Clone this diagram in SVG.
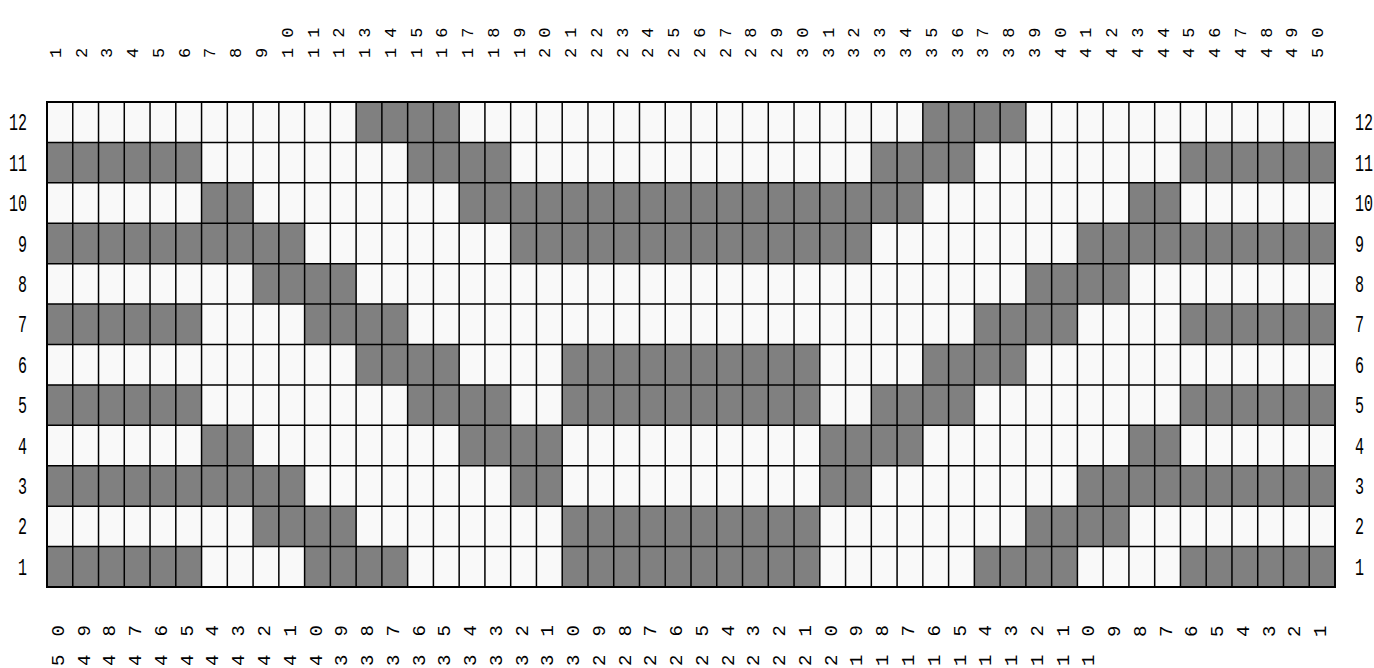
<svg xmlns="http://www.w3.org/2000/svg" width="1374" height="668" viewBox="0 0 1374 668">
<style>
.bg{fill:#ffffff}
.cell{fill:#f9f9f9}
.dk{fill:#808080}
.grid{fill:none;stroke:#000;stroke-width:1.5}
.frame{fill:none;stroke:#000;stroke-width:2}
.top{font-family:"Liberation Mono","DejaVu Sans Mono",monospace;font-size:17px;letter-spacing:10px;fill:#000}
.bot{font-family:"Liberation Mono","DejaVu Sans Mono",monospace;font-size:19px;letter-spacing:18px;fill:#000}
.rl{font-family:"Liberation Mono","DejaVu Sans Mono",monospace;font-size:15px;fill:#000}
.rl.l{text-anchor:end}
</style>
<rect class="bg" x="0" y="0" width="1374" height="668"/>
<g id="grid">
<rect class="cell" x="47" y="102" width="1288" height="485"/>
<g id="dark">
<rect class="dk" x="356.12" y="102" width="103.04" height="40.42"/>
<rect class="dk" x="922.84" y="102" width="103.04" height="40.42"/>
<rect class="dk" x="47" y="142.42" width="154.56" height="40.42"/>
<rect class="dk" x="407.64" y="142.42" width="103.04" height="40.42"/>
<rect class="dk" x="871.32" y="142.42" width="103.04" height="40.42"/>
<rect class="dk" x="1180.44" y="142.42" width="154.56" height="40.42"/>
<rect class="dk" x="201.56" y="182.83" width="51.52" height="40.42"/>
<rect class="dk" x="459.16" y="182.83" width="463.68" height="40.42"/>
<rect class="dk" x="1128.92" y="182.83" width="51.52" height="40.42"/>
<rect class="dk" x="47" y="223.25" width="257.6" height="40.42"/>
<rect class="dk" x="510.68" y="223.25" width="360.64" height="40.42"/>
<rect class="dk" x="1077.4" y="223.25" width="257.6" height="40.42"/>
<rect class="dk" x="253.08" y="263.67" width="103.04" height="40.42"/>
<rect class="dk" x="1025.88" y="263.67" width="103.04" height="40.42"/>
<rect class="dk" x="47" y="304.08" width="154.56" height="40.42"/>
<rect class="dk" x="304.6" y="304.08" width="103.04" height="40.42"/>
<rect class="dk" x="974.36" y="304.08" width="103.04" height="40.42"/>
<rect class="dk" x="1180.44" y="304.08" width="154.56" height="40.42"/>
<rect class="dk" x="356.12" y="344.5" width="103.04" height="40.42"/>
<rect class="dk" x="562.2" y="344.5" width="257.6" height="40.42"/>
<rect class="dk" x="922.84" y="344.5" width="103.04" height="40.42"/>
<rect class="dk" x="47" y="384.92" width="154.56" height="40.42"/>
<rect class="dk" x="407.64" y="384.92" width="103.04" height="40.42"/>
<rect class="dk" x="562.2" y="384.92" width="257.6" height="40.42"/>
<rect class="dk" x="871.32" y="384.92" width="103.04" height="40.42"/>
<rect class="dk" x="1180.44" y="384.92" width="154.56" height="40.42"/>
<rect class="dk" x="201.56" y="425.33" width="51.52" height="40.42"/>
<rect class="dk" x="459.16" y="425.33" width="103.04" height="40.42"/>
<rect class="dk" x="819.8" y="425.33" width="103.04" height="40.42"/>
<rect class="dk" x="1128.92" y="425.33" width="51.52" height="40.42"/>
<rect class="dk" x="47" y="465.75" width="257.6" height="40.42"/>
<rect class="dk" x="510.68" y="465.75" width="51.52" height="40.42"/>
<rect class="dk" x="819.8" y="465.75" width="51.52" height="40.42"/>
<rect class="dk" x="1077.4" y="465.75" width="257.6" height="40.42"/>
<rect class="dk" x="253.08" y="506.17" width="103.04" height="40.42"/>
<rect class="dk" x="562.2" y="506.17" width="257.6" height="40.42"/>
<rect class="dk" x="1025.88" y="506.17" width="103.04" height="40.42"/>
<rect class="dk" x="47" y="546.58" width="154.56" height="40.42"/>
<rect class="dk" x="304.6" y="546.58" width="103.04" height="40.42"/>
<rect class="dk" x="562.2" y="546.58" width="257.6" height="40.42"/>
<rect class="dk" x="974.36" y="546.58" width="103.04" height="40.42"/>
<rect class="dk" x="1180.44" y="546.58" width="154.56" height="40.42"/>
</g>
<path class="grid" d="M72.76 102V587M98.52 102V587M124.28 102V587M150.04 102V587M175.8 102V587M201.56 102V587M227.32 102V587M253.08 102V587M278.84 102V587M304.6 102V587M330.36 102V587M356.12 102V587M381.88 102V587M407.64 102V587M433.4 102V587M459.16 102V587M484.92 102V587M510.68 102V587M536.44 102V587M562.2 102V587M587.96 102V587M613.72 102V587M639.48 102V587M665.24 102V587M691 102V587M716.76 102V587M742.52 102V587M768.28 102V587M794.04 102V587M819.8 102V587M845.56 102V587M871.32 102V587M897.08 102V587M922.84 102V587M948.6 102V587M974.36 102V587M1000.12 102V587M1025.88 102V587M1051.64 102V587M1077.4 102V587M1103.16 102V587M1128.92 102V587M1154.68 102V587M1180.44 102V587M1206.2 102V587M1231.96 102V587M1257.72 102V587M1283.48 102V587M1309.24 102V587M47 142.42H1335M47 182.83H1335M47 223.25H1335M47 263.67H1335M47 304.08H1335M47 344.5H1335M47 384.92H1335M47 425.33H1335M47 465.75H1335M47 506.17H1335M47 546.58H1335"/>
<rect class="frame" x="47" y="102" width="1288" height="485"/>
</g>
<g id="top-labels">
<text class="top" transform="translate(60.9,58) rotate(-90)">1</text>
<text class="top" transform="translate(86.6,58) rotate(-90)">2</text>
<text class="top" transform="translate(112.4,58) rotate(-90)">3</text>
<text class="top" transform="translate(138.2,58) rotate(-90)">4</text>
<text class="top" transform="translate(163.9,58) rotate(-90)">5</text>
<text class="top" transform="translate(189.7,58) rotate(-90)">6</text>
<text class="top" transform="translate(215.4,58) rotate(-90)">7</text>
<text class="top" transform="translate(241.2,58) rotate(-90)">8</text>
<text class="top" transform="translate(267,58) rotate(-90)">9</text>
<text class="top" transform="translate(292.7,58) rotate(-90)">10</text>
<text class="top" transform="translate(318.5,58) rotate(-90)">11</text>
<text class="top" transform="translate(344.2,58) rotate(-90)">12</text>
<text class="top" transform="translate(370,58) rotate(-90)">13</text>
<text class="top" transform="translate(395.8,58) rotate(-90)">14</text>
<text class="top" transform="translate(421.5,58) rotate(-90)">15</text>
<text class="top" transform="translate(447.3,58) rotate(-90)">16</text>
<text class="top" transform="translate(473,58) rotate(-90)">17</text>
<text class="top" transform="translate(498.8,58) rotate(-90)">18</text>
<text class="top" transform="translate(524.6,58) rotate(-90)">19</text>
<text class="top" transform="translate(550.3,58) rotate(-90)">20</text>
<text class="top" transform="translate(576.1,58) rotate(-90)">21</text>
<text class="top" transform="translate(601.8,58) rotate(-90)">22</text>
<text class="top" transform="translate(627.6,58) rotate(-90)">23</text>
<text class="top" transform="translate(653.4,58) rotate(-90)">24</text>
<text class="top" transform="translate(679.1,58) rotate(-90)">25</text>
<text class="top" transform="translate(704.9,58) rotate(-90)">26</text>
<text class="top" transform="translate(730.6,58) rotate(-90)">27</text>
<text class="top" transform="translate(756.4,58) rotate(-90)">28</text>
<text class="top" transform="translate(782.2,58) rotate(-90)">29</text>
<text class="top" transform="translate(807.9,58) rotate(-90)">30</text>
<text class="top" transform="translate(833.7,58) rotate(-90)">31</text>
<text class="top" transform="translate(859.4,58) rotate(-90)">32</text>
<text class="top" transform="translate(885.2,58) rotate(-90)">33</text>
<text class="top" transform="translate(911,58) rotate(-90)">34</text>
<text class="top" transform="translate(936.7,58) rotate(-90)">35</text>
<text class="top" transform="translate(962.5,58) rotate(-90)">36</text>
<text class="top" transform="translate(988.2,58) rotate(-90)">37</text>
<text class="top" transform="translate(1014,58) rotate(-90)">38</text>
<text class="top" transform="translate(1039.8,58) rotate(-90)">39</text>
<text class="top" transform="translate(1065.5,58) rotate(-90)">40</text>
<text class="top" transform="translate(1091.3,58) rotate(-90)">41</text>
<text class="top" transform="translate(1117,58) rotate(-90)">42</text>
<text class="top" transform="translate(1142.8,58) rotate(-90)">43</text>
<text class="top" transform="translate(1168.6,58) rotate(-90)">44</text>
<text class="top" transform="translate(1194.3,58) rotate(-90)">45</text>
<text class="top" transform="translate(1220.1,58) rotate(-90)">46</text>
<text class="top" transform="translate(1245.8,58) rotate(-90)">47</text>
<text class="top" transform="translate(1271.6,58) rotate(-90)">48</text>
<text class="top" transform="translate(1297.4,58) rotate(-90)">49</text>
<text class="top" transform="translate(1323.1,58) rotate(-90)">50</text>
</g>
<g id="bottom-labels">
<text class="bot" transform="translate(63.9,666) rotate(-90)">50</text>
<text class="bot" transform="translate(89.6,666) rotate(-90)">49</text>
<text class="bot" transform="translate(115.4,666) rotate(-90)">48</text>
<text class="bot" transform="translate(141.2,666) rotate(-90)">47</text>
<text class="bot" transform="translate(166.9,666) rotate(-90)">46</text>
<text class="bot" transform="translate(192.7,666) rotate(-90)">45</text>
<text class="bot" transform="translate(218.4,666) rotate(-90)">44</text>
<text class="bot" transform="translate(244.2,666) rotate(-90)">43</text>
<text class="bot" transform="translate(270,666) rotate(-90)">42</text>
<text class="bot" transform="translate(295.7,666) rotate(-90)">41</text>
<text class="bot" transform="translate(321.5,666) rotate(-90)">40</text>
<text class="bot" transform="translate(347.2,666) rotate(-90)">39</text>
<text class="bot" transform="translate(373,666) rotate(-90)">38</text>
<text class="bot" transform="translate(398.8,666) rotate(-90)">37</text>
<text class="bot" transform="translate(424.5,666) rotate(-90)">36</text>
<text class="bot" transform="translate(450.3,666) rotate(-90)">35</text>
<text class="bot" transform="translate(476,666) rotate(-90)">34</text>
<text class="bot" transform="translate(501.8,666) rotate(-90)">33</text>
<text class="bot" transform="translate(527.6,666) rotate(-90)">32</text>
<text class="bot" transform="translate(553.3,666) rotate(-90)">31</text>
<text class="bot" transform="translate(579.1,666) rotate(-90)">30</text>
<text class="bot" transform="translate(604.8,666) rotate(-90)">29</text>
<text class="bot" transform="translate(630.6,666) rotate(-90)">28</text>
<text class="bot" transform="translate(656.4,666) rotate(-90)">27</text>
<text class="bot" transform="translate(682.1,666) rotate(-90)">26</text>
<text class="bot" transform="translate(707.9,666) rotate(-90)">25</text>
<text class="bot" transform="translate(733.6,666) rotate(-90)">24</text>
<text class="bot" transform="translate(759.4,666) rotate(-90)">23</text>
<text class="bot" transform="translate(785.2,666) rotate(-90)">22</text>
<text class="bot" transform="translate(810.9,666) rotate(-90)">21</text>
<text class="bot" transform="translate(836.7,666) rotate(-90)">20</text>
<text class="bot" transform="translate(862.4,666) rotate(-90)">19</text>
<text class="bot" transform="translate(888.2,666) rotate(-90)">18</text>
<text class="bot" transform="translate(914,666) rotate(-90)">17</text>
<text class="bot" transform="translate(939.7,666) rotate(-90)">16</text>
<text class="bot" transform="translate(965.5,666) rotate(-90)">15</text>
<text class="bot" transform="translate(991.2,666) rotate(-90)">14</text>
<text class="bot" transform="translate(1017,666) rotate(-90)">13</text>
<text class="bot" transform="translate(1042.8,666) rotate(-90)">12</text>
<text class="bot" transform="translate(1068.5,666) rotate(-90)">11</text>
<text class="bot" transform="translate(1094.3,666) rotate(-90)">10</text>
<text class="bot" transform="translate(1120,637) rotate(-90)">9</text>
<text class="bot" transform="translate(1145.8,637) rotate(-90)">8</text>
<text class="bot" transform="translate(1171.6,637) rotate(-90)">7</text>
<text class="bot" transform="translate(1197.3,637) rotate(-90)">6</text>
<text class="bot" transform="translate(1223.1,637) rotate(-90)">5</text>
<text class="bot" transform="translate(1248.8,637) rotate(-90)">4</text>
<text class="bot" transform="translate(1274.6,637) rotate(-90)">3</text>
<text class="bot" transform="translate(1300.4,637) rotate(-90)">2</text>
<text class="bot" transform="translate(1326.1,637) rotate(-90)">1</text>
</g>
<g id="row-labels-left">
<text class="rl l" transform="translate(27,130.2) scale(1,1.6)">12</text>
<text class="rl l" transform="translate(27,170.6) scale(1,1.6)">11</text>
<text class="rl l" transform="translate(27,211) scale(1,1.6)">10</text>
<text class="rl l" transform="translate(27,251.5) scale(1,1.6)">9</text>
<text class="rl l" transform="translate(27,291.9) scale(1,1.6)">8</text>
<text class="rl l" transform="translate(27,332.3) scale(1,1.6)">7</text>
<text class="rl l" transform="translate(27,372.7) scale(1,1.6)">6</text>
<text class="rl l" transform="translate(27,413.1) scale(1,1.6)">5</text>
<text class="rl l" transform="translate(27,453.5) scale(1,1.6)">4</text>
<text class="rl l" transform="translate(27,494) scale(1,1.6)">3</text>
<text class="rl l" transform="translate(27,534.4) scale(1,1.6)">2</text>
<text class="rl l" transform="translate(27,574.8) scale(1,1.6)">1</text>
</g>
<g id="row-labels-right">
<text class="rl" transform="translate(1355,130.2) scale(1,1.6)">12</text>
<text class="rl" transform="translate(1355,170.6) scale(1,1.6)">11</text>
<text class="rl" transform="translate(1355,211) scale(1,1.6)">10</text>
<text class="rl" transform="translate(1355,251.5) scale(1,1.6)">9</text>
<text class="rl" transform="translate(1355,291.9) scale(1,1.6)">8</text>
<text class="rl" transform="translate(1355,332.3) scale(1,1.6)">7</text>
<text class="rl" transform="translate(1355,372.7) scale(1,1.6)">6</text>
<text class="rl" transform="translate(1355,413.1) scale(1,1.6)">5</text>
<text class="rl" transform="translate(1355,453.5) scale(1,1.6)">4</text>
<text class="rl" transform="translate(1355,494) scale(1,1.6)">3</text>
<text class="rl" transform="translate(1355,534.4) scale(1,1.6)">2</text>
<text class="rl" transform="translate(1355,574.8) scale(1,1.6)">1</text>
</g>
</svg>
